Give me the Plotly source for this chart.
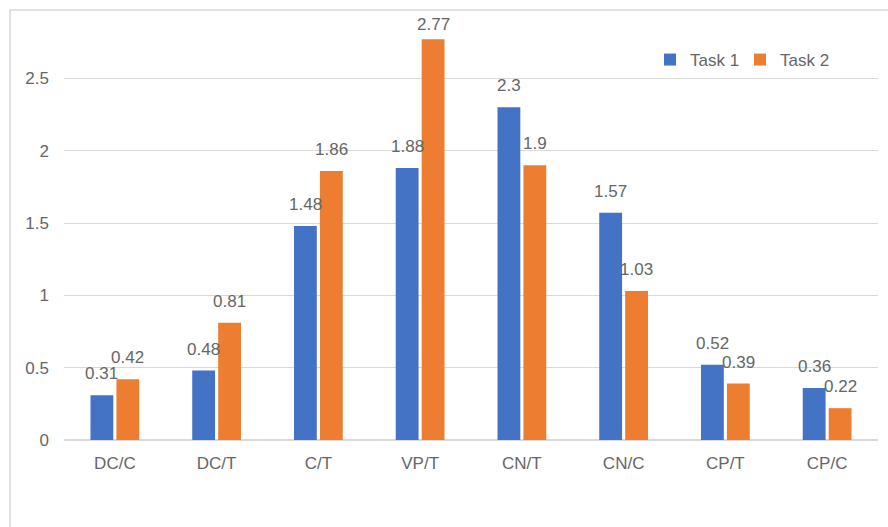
import plotly.graph_objects as go

categories = ["DC/C", "DC/T", "C/T", "VP/T", "CN/T", "CN/C", "CP/T", "CP/C"]
task1 = [0.31, 0.48, 1.48, 1.88, 2.3, 1.57, 0.52, 0.36]
task2 = [0.42, 0.81, 1.86, 2.77, 1.9, 1.03, 0.39, 0.22]
series_names = ["Task 1", "Task 2"]
colors = ["#4472C4", "#ED7D31"]
yticks = [0, 0.5, 1, 1.5, 2, 2.5]

W, H = 888, 527
ML, MR, MT, MB = 64, 10, 6, 87
YMAX = 3.0
BARGAP = 0.49
BARGROUPGAP = 0.12
TEXT = "#666666"
GRID = "#D9D9D9"
FONT = "Liberation Sans, Arial, sans-serif"

fig = go.Figure()
for name, vals, col in zip(series_names, [task1, task2], colors):
    fig.add_trace(go.Bar(x=categories, y=vals, name=name, marker=dict(color=col, line=dict(width=0))))

plot_w = W - ML - MR
plot_h = H - MT - MB
cat_px = plot_w / len(categories)
slot_px = (1 - BARGAP) / 2 * cat_px

annotations = []
for i, vals in enumerate([task1, task2]):
    xs = (i - 0.5) * slot_px
    for c, v in zip(categories, vals):
        top_px = MT + (YMAX - v) / YMAX * plot_h
        ysh = min(10, top_px - 36)
        annotations.append(dict(
            x=c, y=v, text=str(v), showarrow=False, xanchor="center", yanchor="bottom",
            xshift=xs, yshift=ysh, font=dict(size=17, color=TEXT, family=FONT)))

fig.update_layout(
    width=W, height=H,
    margin=dict(l=ML, r=MR, t=MT, b=MB),
    paper_bgcolor="white", plot_bgcolor="white",
    barmode="group", bargap=BARGAP, bargroupgap=BARGROUPGAP,
    font=dict(family=FONT, size=17, color=TEXT),
    showlegend=True,
    legend=dict(orientation="h", x=(650 - ML) / plot_w, y=1 - (60 - MT) / plot_h,
                xanchor="left", yanchor="middle",
                entrywidth=45, entrywidthmode="pixels",
                font=dict(size=17, color=TEXT), bgcolor="rgba(0,0,0,0)",
                traceorder="normal"),
    annotations=annotations,
    shapes=[dict(type="rect", xref="paper", yref="paper",
                 x0=(10 - ML) / plot_w, x1=(900 - ML) / plot_w,
                 y0=1 - (540 - MT) / plot_h, y1=1 - (10 - MT) / plot_h,
                 line=dict(color=GRID, width=1.5), fillcolor="rgba(0,0,0,0)", layer="below")],
)
fig.update_xaxes(showline=True, linecolor=GRID, linewidth=1, ticks="", showgrid=False,
                 tickfont=dict(size=17, color=TEXT), ticklabelstandoff=8)
fig.update_yaxes(range=[0, YMAX], tickvals=yticks, ticktext=[str(t) for t in yticks],
                 showgrid=True, gridcolor=GRID, gridwidth=1, zeroline=True, zerolinecolor=GRID,
                 showline=False, ticks="", tickfont=dict(size=17, color=TEXT), ticklabelstandoff=14)

fig.write_html("out.html")
